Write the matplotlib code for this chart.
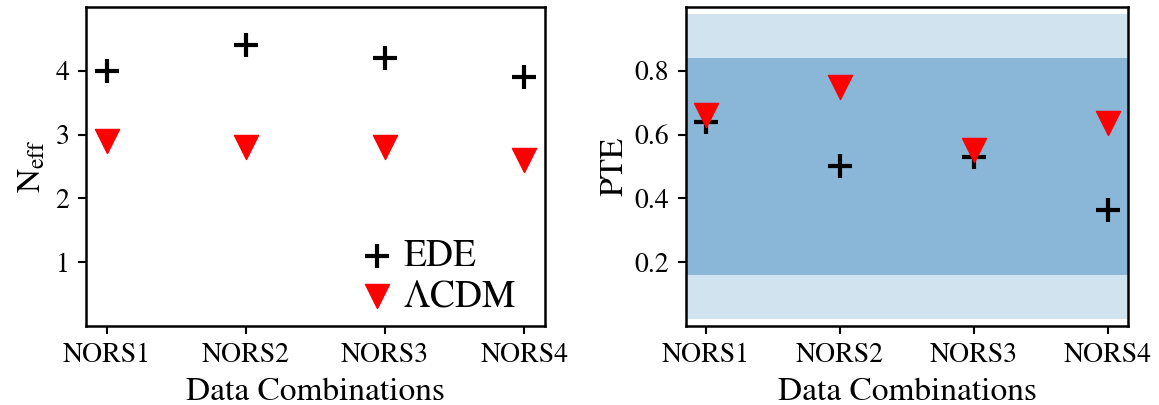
import numpy as np
import matplotlib.pyplot as plt

plt.rcParams["font.family"] = ["STIXGeneral", "Liberation Serif", "DejaVu Serif"]
plt.rcParams["mathtext.fontset"] = "stix"

combos = ["NORS1", "NORS2", "NORS3", "NORS4"]

neff_ede = [4.0, 4.4, 4.2, 3.9]
neff_lcdm = [2.9, 2.8, 2.8, 2.6]

pte_ede = [0.64, 0.50, 0.53, 0.365]
pte_lcdm = [0.66, 0.75, 0.55, 0.635]

# 1 and 2 sigma PTE intervals
sig1 = (0.1587, 0.8413)
sig2 = (0.0228, 0.9772)

x = np.arange(len(combos))
ms = 300

fig = plt.figure(figsize=(11.59, 4.05), dpi=100)
ax1 = fig.add_axes([0.0742, 0.195, 0.3961, 0.788])
ax2 = fig.add_axes([0.5919, 0.195, 0.3814, 0.788])

ax1.scatter(x, neff_ede, s=ms, marker="+", color="k", linewidths=3, label="EDE")
ax1.scatter(x, neff_lcdm, s=ms, marker="v", color="red", label=r"$\Lambda$CDM")
ax1.set_ylim(0, 5)
ax1.set_yticks([1, 2, 3, 4])
ax1.set_ylabel(r"$\mathrm{N_{eff}}$", fontsize=24, labelpad=6)
ax1.legend(loc="lower right", bbox_to_anchor=(0.97, -0.01), frameon=False,
           fontsize=27, handlelength=0.4, handletextpad=0.5,
           labelspacing=0.15, borderaxespad=0)

ax2.axhspan(*sig2, color="C0", alpha=0.2, lw=0)
ax2.axhspan(*sig1, color="C0", alpha=0.4, lw=0)
ax2.scatter(x, pte_ede, s=ms, marker="+", color="k", linewidths=3)
ax2.scatter(x, pte_lcdm, s=ms, marker="v", color="red")
ax2.set_ylim(0, 1)
ax2.set_yticks([0.2, 0.4, 0.6, 0.8])
ax2.set_ylabel("PTE", fontsize=24, labelpad=4)

for ax in (ax1, ax2):
    ax.set_xticks(x)
    ax.set_xticklabels(combos)
    ax.set_xlabel("Data Combinations", fontsize=24, labelpad=7)
    ax.tick_params(labelsize=20, length=6, width=1.5, pad=6)
    for sp in ax.spines.values():
        sp.set_linewidth(1.8)

fig.savefig("out.png", dpi=100)
